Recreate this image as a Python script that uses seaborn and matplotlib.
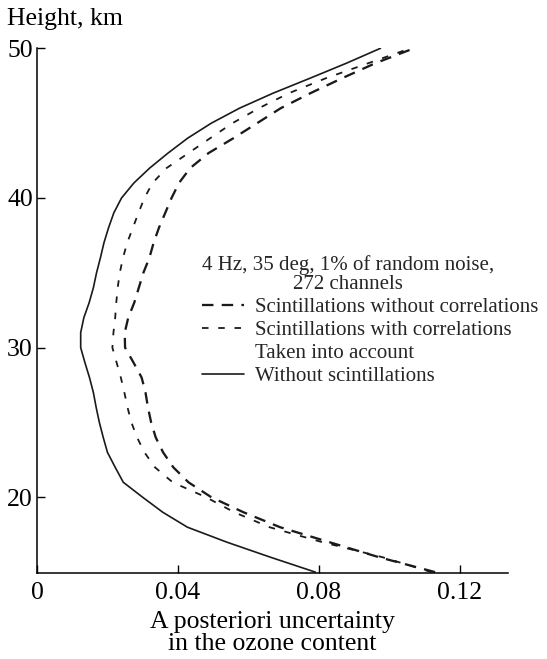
import numpy as np
import pandas as pd
import seaborn as sns
import matplotlib
matplotlib.use("Agg")
import matplotlib.pyplot as plt
from matplotlib.lines import Line2D

# Height grid, km
height_km = [15, 16, 17, 18, 19, 20, 21, 22, 23, 24, 25, 26, 27, 28, 29, 30, 31, 32,
             33, 34, 35, 36, 37, 38, 39, 40, 41, 42, 43, 44, 45, 46, 47, 48, 49, 50]

# A posteriori uncertainty of the ozone content
no_correlations = [0.113, 0.097, 0.083, 0.069, 0.0586, 0.0495, 0.0430, 0.0387, 0.0358,
                   0.0337, 0.0324, 0.0315, 0.0308, 0.0297, 0.0274, 0.0250, 0.0249, 0.0259,
                   0.0276, 0.0289, 0.0302, 0.0319, 0.0331, 0.0346, 0.0364, 0.0382, 0.0403,
                   0.0435, 0.0487, 0.0558, 0.0625, 0.0692, 0.0776, 0.0866, 0.0960, 0.107]
with_correlations = [0.112, 0.098, 0.081, 0.066, 0.056, 0.048, 0.0385, 0.0335, 0.0305,
                     0.0284, 0.0268, 0.0257, 0.0248, 0.0238, 0.0226, 0.0214, 0.0217, 0.0222,
                     0.0225, 0.0229, 0.0235, 0.0244, 0.0256, 0.0272, 0.0288, 0.0305, 0.0328,
                     0.0368, 0.0430, 0.0492, 0.0555, 0.0630, 0.0715, 0.0820, 0.0940, 0.106]
no_scintillations = [0.079, 0.0662, 0.0539, 0.0427, 0.0357, 0.0300, 0.0245, 0.0222, 0.0200,
                     0.0188, 0.0177, 0.0168, 0.0160, 0.0149, 0.0136, 0.0124, 0.0124, 0.0133,
                     0.0148, 0.0160, 0.0169, 0.0180, 0.0190, 0.0203, 0.0218, 0.0240, 0.0275,
                     0.0320, 0.0372, 0.0428, 0.0495, 0.0575, 0.0670, 0.0775, 0.0878, 0.0975]

x_ticks = [0, 0.04, 0.08, 0.12]
x_tick_labels = ["0", "0.04", "0.08", "0.12"]
y_ticks = [20, 30, 40, 50]

legend_title = "4 Hz, 35 deg, 1% of random noise,\n272 channels"
legend_labels = ["Scintillations without correlations",
                 "Scintillations with correlations",
                 "Taken into account",
                 "Without scintillations"]

sns.set_theme(style="ticks")
plt.rcParams["font.family"] = ["Liberation Serif", "DejaVu Serif"]
plt.rcParams["mathtext.fontset"] = "stix"

W, H = 547, 659
fig = plt.figure(figsize=(W / 100, H / 100), dpi=100)
ax_left, ax_right, ax_top, ax_bottom = 37, 508, 48.3, 573.3
ax = fig.add_axes([ax_left / W, 1 - ax_bottom / H,
                   (ax_right - ax_left) / W, (ax_bottom - ax_top) / H])

ink = "#1a1a1a"
long_dash = (0, (5.0, 3.6))
short_dash = (0, (3.6, 5.4))

df = pd.DataFrame({"height": height_km,
                   "no_corr": no_correlations,
                   "with_corr": with_correlations,
                   "no_scint": no_scintillations})

sns.lineplot(data=df, x="no_corr", y="height", orient="y", sort=False,
             estimator=None, color=ink, lw=1.65, linestyle=long_dash, ax=ax)
sns.lineplot(data=df, x="with_corr", y="height", orient="y", sort=False,
             estimator=None, color=ink, lw=1.3, linestyle=short_dash, ax=ax)
sns.lineplot(data=df, x="no_scint", y="height", orient="y", sort=False,
             estimator=None, color=ink, lw=1.2, linestyle="-", ax=ax)

ax.set_xlim(0, 0.1337)
ax.set_ylim(14.92, 50)
ax.set_xticks(x_ticks)
ax.set_xticklabels(x_tick_labels)
ax.set_yticks(y_ticks)
ax.set_xlabel("A posteriori uncertainty\nin the ozone content", fontsize=18.5,
              color="black", labelpad=5, linespacing=1.0)
ax.set_ylabel("")
sns.despine(ax=ax)
for side in ("left", "bottom"):
    ax.spines[side].set_color("black")
    ax.spines[side].set_linewidth(1.1)
ax.tick_params(axis="both", direction="in", length=5.5, width=1.0, color="black",
               labelsize=18.5, labelcolor="black")
ax.tick_params(axis="y", pad=3)
ax.tick_params(axis="x", pad=6)

fig.text(7 / W, 1 - 25 / H, "Height, km", fontsize=18.5, ha="left",
         va="baseline", color="black")

handles = [Line2D([], [], color=ink, lw=1.65, linestyle=long_dash),
           Line2D([], [], color=ink, lw=1.3, linestyle=short_dash),
           Line2D([], [], color="none", lw=0),
           Line2D([], [], color=ink, lw=1.2, linestyle="-")]
leg = ax.legend(handles, legend_labels, title=legend_title,
                loc="upper left", bbox_to_anchor=(202 / W, 1 - 255 / H),
                bbox_transform=fig.transFigure, frameon=False, fontsize=15,
                title_fontsize=15, alignment="left", borderpad=0,
                borderaxespad=0, handlelength=2.0, handletextpad=0.55,
                labelspacing=0.17)
leg.get_title().set_multialignment("center")
leg.get_title().set_linespacing(1.0)

fig.savefig("out.png", dpi=100)
